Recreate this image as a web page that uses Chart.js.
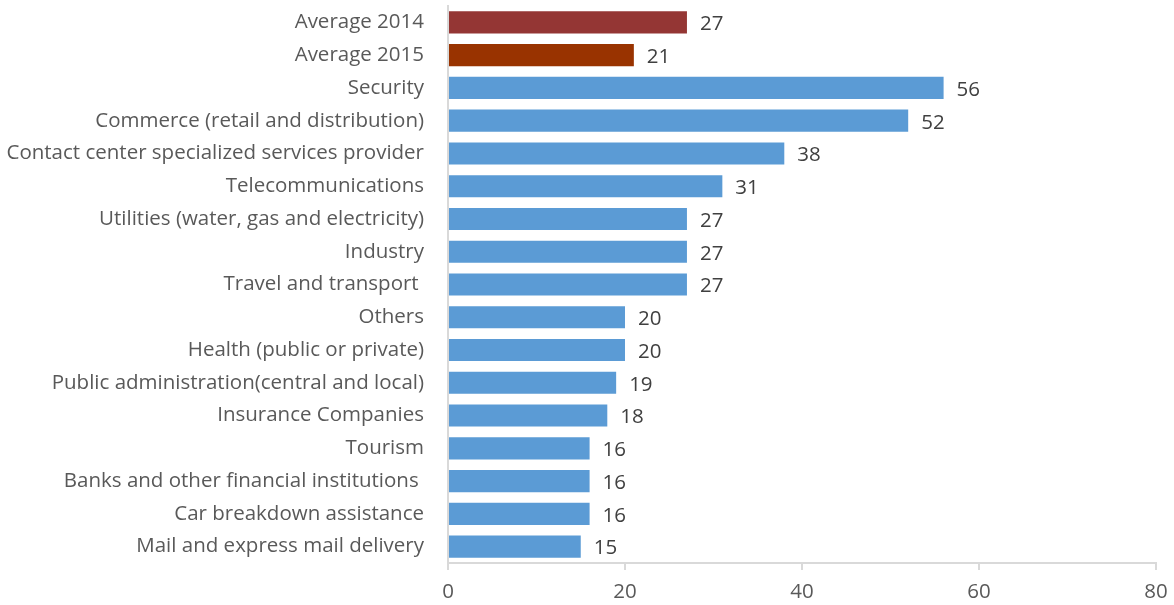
<!DOCTYPE html>
<html>
<head>
<meta charset="utf-8">
<script src="https://cdn.jsdelivr.net/npm/chart.js@4"></script>
<style>
  html, body { margin: 0; padding: 0; background: #fff; }
  #wrap { width: 1174px; height: 605px; }
</style>
</head>
<body>
<div id="wrap"><canvas id="c" width="1174" height="605"></canvas></div>
<script>
const sectors = [
  "Average 2014",
  "Average 2015",
  "Security",
  "Commerce (retail and distribution)",
  "Contact center specialized services provider",
  "Telecommunications",
  "Utilities (water, gas and electricity)",
  "Industry",
  "Travel and transport ",
  "Others",
  "Health (public or private)",
  "Public administration(central and local)",
  "Insurance Companies",
  "Tourism",
  "Banks and other financial institutions ",
  "Car breakdown assistance",
  "Mail and express mail delivery"
];
const values = [27, 21, 56, 52, 38, 31, 27, 27, 27, 20, 20, 19, 18, 16, 16, 16, 15];
const barColors = ["#943634", "#993300"];
const defaultBar = "#5B9BD5";
const xTicks = [0, 20, 40, 60, 80];

const FONT = "'Open Sans', Lato, sans-serif";
const FONT_SIZE = 20.5;

// value labels to the right of each bar
const valueLabels = {
  id: "valueLabels",
  afterDatasetsDraw(chart) {
    const ctx = chart.ctx;
    ctx.save();
    ctx.font = FONT_SIZE + "px " + FONT;
    ctx.fillStyle = "#404040";
    ctx.textAlign = "left";
    ctx.textBaseline = "middle";
    chart.getDatasetMeta(0).data.forEach((bar, i) => {
      ctx.fillText(String(values[i]), bar.x + 13, bar.y + 2);
    });
    ctx.restore();
  }
};

new Chart(document.getElementById("c"), {
  type: "bar",
  data: {
    labels: sectors,
    datasets: [{
      data: values,
      backgroundColor: values.map((v, i) => barColors[i] || defaultBar),
      barPercentage: 0.9,
      categoryPercentage: 0.75
    }]
  },
  options: {
    indexAxis: "y",
    responsive: false,
    animation: false,
    layout: { padding: { top: 6, right: 18, left: 0, bottom: 0 } },
    plugins: { legend: { display: false }, tooltip: { enabled: false } },
    scales: {
      x: {
        min: 0,
        max: 80,
        afterBuildTicks(scale) { scale.ticks = xTicks.map(v => ({ value: v })); },
        afterFit(scale) {
          scale.height = 42;
          scale.paddingLeft = 0;
          scale.paddingRight = 0;
        },
        grid: { drawOnChartArea: false, drawTicks: true, tickLength: 7, color: "#D9D9D9", lineWidth: 2 },
        border: { color: "#D9D9D9", width: 2 },
        ticks: { color: "#595959", font: { family: FONT, size: FONT_SIZE }, padding: 10 }
      },
      y: {
        afterFit(scale) {
          scale.width = 448;
          scale.paddingTop = 0;
          scale.paddingBottom = 0;
        },
        grid: { drawOnChartArea: false, drawTicks: false },
        border: { color: "#D9D9D9", width: 2 },
        ticks: {
          color: "#595959",
          font: { family: FONT, size: FONT_SIZE, lineHeight: 1.3 },
          padding: 24,
          autoSkip: false
        }
      }
    }
  },
  plugins: [valueLabels]
});
</script>
</body>
</html>
